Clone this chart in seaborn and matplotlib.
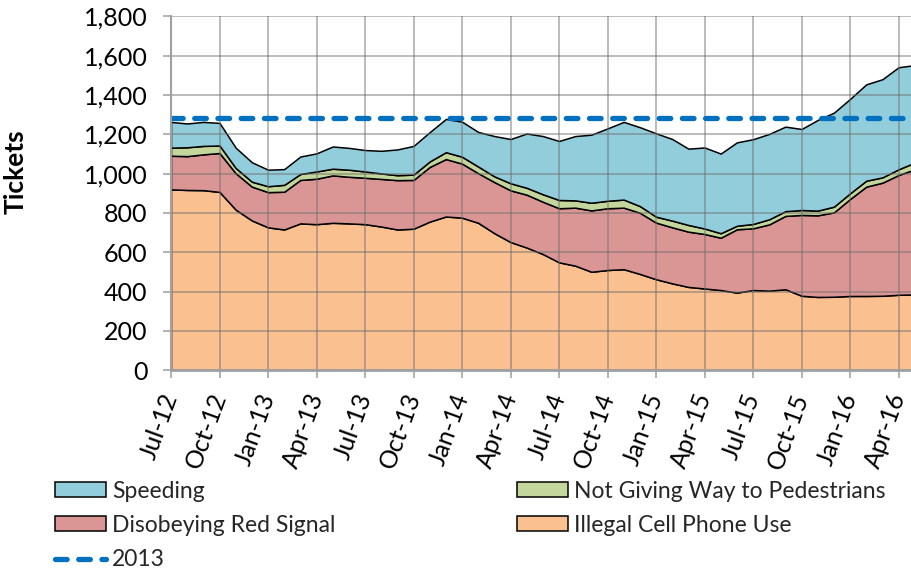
import numpy as np
import pandas as pd
import matplotlib
matplotlib.use("Agg")
import matplotlib.pyplot as plt
import seaborn as sns
from matplotlib.patches import Patch
from matplotlib.lines import Line2D
from matplotlib.ticker import FuncFormatter

# monthly tickets, Jul-12 .. May-16
cell_phone = [920, 917, 916, 907, 817, 762, 727, 716, 747, 743, 750, 747,
              743, 731, 716, 720, 756, 782, 776, 750, 697, 652, 624, 591,
              549, 532, 501, 510, 514, 490, 463, 442, 424, 416, 408, 395,
              408, 405, 412, 379, 373, 374, 378, 378, 379, 384, 386]
red_signal = [171, 172, 182, 198, 185, 172, 179, 192, 221, 231, 241, 237,
              236, 242, 251, 248, 278, 292, 275, 252, 260, 263, 269, 266,
              275, 295, 312, 314, 313, 311, 288, 285, 281, 277, 266, 322,
              314, 337, 373, 411, 415, 429, 493, 556, 575, 609, 636]
pedestrians = [41, 45, 43, 38, 27, 25, 30, 35, 30, 37, 34, 36,
               32, 28, 25, 27, 28, 35, 35, 34, 29, 36, 35, 38,
               42, 37, 39, 38, 41, 34, 30, 34, 34, 28, 23, 18,
               22, 26, 24, 25, 24, 29, 29, 30, 27, 29, 34]
speeding = [131, 121, 122, 115, 103, 99, 84, 80, 89, 92, 113, 111,
            109, 115, 131, 146, 149, 169, 178, 176, 205, 225, 276, 296,
            300, 327, 346, 368, 395, 401, 424, 415, 388, 412, 405, 424,
            431, 434, 430, 412, 461, 478, 480, 490, 499, 519, 496]
avg_2013 = 1283

tick_labels = ["Jul-12", "Oct-12", "Jan-13", "Apr-13", "Jul-13", "Oct-13",
               "Jan-14", "Apr-14", "Jul-14", "Oct-14", "Jan-15", "Apr-15",
               "Jul-15", "Oct-15", "Jan-16", "Apr-16"]

colors = {
    "Speeding": "#92CDDC",
    "Not Giving Way to Pedestrians": "#C3D69B",
    "Disobeying Red Signal": "#D99694",
    "Illegal Cell Phone Use": "#FAC090",
}

sns.set_theme(style="white")
plt.rcParams["font.family"] = ["Lato", "DejaVu Sans"]

df = pd.DataFrame({
    "month": np.arange(len(cell_phone)),
    "Illegal Cell Phone Use": cell_phone,
    "Disobeying Red Signal": red_signal,
    "Not Giving Way to Pedestrians": pedestrians,
    "Speeding": speeding,
})
df["2013"] = avg_2013

fig = plt.figure(figsize=(9.12, 5.69), dpi=100)
ax = fig.add_axes([171 / 912, 1 - 370.3 / 569, 1 - 171 / 912, 354 / 569])

order = ["Illegal Cell Phone Use", "Disobeying Red Signal",
         "Not Giving Way to Pedestrians", "Speeding"]
ax.stackplot(df["month"], *[df[c] for c in order],
             colors=[colors[c] for c in order],
             edgecolor="black", linewidth=1.1, zorder=1)

# 2013 reference line
sns.lineplot(data=df, x="month", y="2013", ax=ax, color="#0070C0",
             linewidth=3.8, dashes=False, zorder=4)
ax.lines[-1].set_dashes((2.2, 2.2))
ax.lines[-1].set_dash_capstyle("round")

ax.set_xlim(0, 45.83)
ax.set_ylim(0, 1800)
ax.set_xticks(np.arange(0, 46, 3))
ax.set_xticklabels(tick_labels, rotation=70, ha="right", va="center",
                   rotation_mode="anchor")
ax.set_yticks(np.arange(0, 1801, 200))
ax.yaxis.set_major_formatter(FuncFormatter(lambda v, p: f"{int(v):,}"))

ax.set_axisbelow(False)
ax.grid(True, color="#6e6e6e", alpha=0.55, linewidth=1.2, zorder=3)
ax.tick_params(axis="both", which="major", direction="out", length=6,
               width=1.2, color="#a6a6a6", labelsize=18, labelcolor="black")
ax.tick_params(axis="y", pad=11)
ax.tick_params(axis="x", pad=11)
ax.tick_params(left=True, bottom=True)
for s in ["top", "right"]:
    ax.spines[s].set_visible(False)
ax.spines["left"].set_color("#a0a0a0")
ax.spines["left"].set_linewidth(1.5)
ax.spines["bottom"].set_color("#a0a0a0")
ax.spines["bottom"].set_linewidth(2)
ax.spines["left"].set_zorder(5)
ax.spines["bottom"].set_zorder(5)

ax.set_xlabel("")
ax.set_ylabel("Tickets", fontsize=19, fontweight="bold", color="black")
ax.yaxis.set_label_coords(-143 / 741, 0.562)

# legend in two columns
def patch(name):
    return Patch(facecolor=colors[name], edgecolor="black", linewidth=1.1)

dash_handle = Line2D([], [], color="#0070C0", linewidth=3.8,
                     dashes=(2.2, 2.2), dash_capstyle="round")
leg_kw = dict(frameon=False, fontsize=16.5, handlelength=2.23,
              handleheight=0.61, handletextpad=0.26, labelspacing=0.585,
              borderpad=0, borderaxespad=0, loc="upper left")
leg1 = fig.legend([patch("Speeding"), patch("Disobeying Red Signal"), dash_handle],
                  ["Speeding", "Disobeying Red Signal", "2013"],
                  bbox_to_anchor=(55 / 912, 1 - 480.5 / 569), **leg_kw)
leg2 = fig.legend([patch("Not Giving Way to Pedestrians"),
                   patch("Illegal Cell Phone Use")],
                  ["Not Giving Way to Pedestrians", "Illegal Cell Phone Use"],
                  bbox_to_anchor=(517 / 912, 1 - 480.5 / 569), **leg_kw)

fig.savefig("out.png", dpi=100)
